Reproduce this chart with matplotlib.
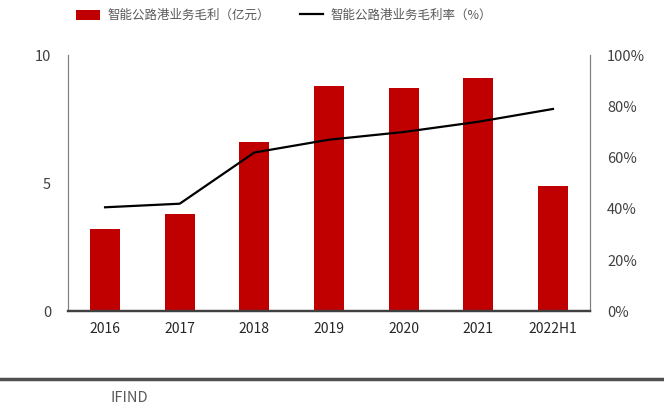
import matplotlib.pyplot as plt
from matplotlib.ticker import FuncFormatter

plt.rcParams['font.family'] = ['Noto Sans CJK SC', 'DejaVu Sans']

# 智能公路港业务：毛利与毛利率
periods = ['2016', '2017', '2018', '2019', '2020', '2021', '2022H1']
gross_profit = [3.2, 3.8, 6.6, 8.8, 8.7, 9.1, 4.9]          # 亿元
gross_margin = [40.6, 42.0, 62.0, 67.0, 70.0, 74.0, 79.0]   # %

red = '#C00000'
grey = '#595959'

fig = plt.figure(figsize=(6.64, 4.15), dpi=100)
ax = fig.add_axes([0.102, 0.25, 0.787, 0.617])
ax2 = ax.twinx()

x = range(len(periods))
bars = ax.bar(x, gross_profit, width=0.4, color=red, label='智能公路港业务毛利（亿元）', zorder=2)
line, = ax2.plot(x, gross_margin, color='black', lw=1.6, label='智能公路港业务毛利率（%）', zorder=3)

ax.set_xlim(-0.5, len(periods) - 0.5)
ax.set_ylim(0, 10)
ax.set_yticks([0, 5, 10])
ax2.set_ylim(0, 100)
ax2.set_yticks([0, 20, 40, 60, 80, 100])
ax2.yaxis.set_major_formatter(FuncFormatter(lambda v, p: f'{v:.0f}%'))

ax.set_xticks(list(x))
ax.set_xticklabels(periods)

for a in (ax, ax2):
    a.spines['top'].set_visible(False)
    a.tick_params(axis='y', length=0, labelsize=10.5, colors='#404040', pad=12)
    a.spines['left'].set_color('#808080')
    a.spines['right'].set_color('#808080')
    a.spines['left'].set_linewidth(0.8)
    a.spines['right'].set_linewidth(0.8)
    a.spines['bottom'].set_color('#404040')
    a.spines['bottom'].set_linewidth(1.6)
ax.tick_params(axis='x', length=0, labelsize=10, colors='#262626', pad=8)

fig.legend([bars, line], [bars.get_label(), line.get_label()], loc='upper center',
           bbox_to_anchor=(0.428, 1.005), ncol=2, frameon=False, fontsize=9,
           labelcolor=grey, handlelength=1.9, handleheight=0.9, handletextpad=0.6,
           columnspacing=2.4)

# bottom source bar
fig.add_artist(plt.Line2D([0, 1], [0.087, 0.087], transform=fig.transFigure, color='#505050', lw=2.5))
fig.text(0.166, 0.04, 'IFIND', fontsize=10.5, color=grey, va='center')

fig.savefig('out.png', dpi=100)
